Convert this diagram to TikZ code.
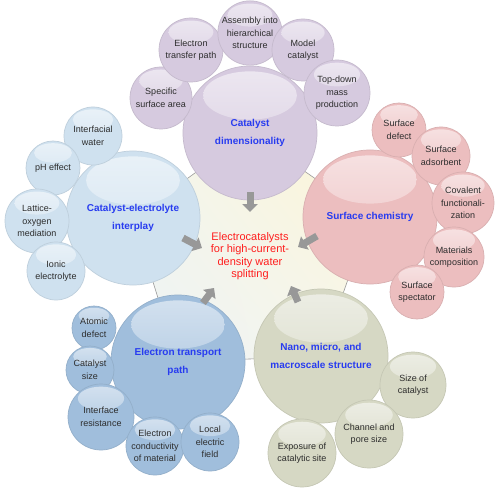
\documentclass[tikz,border=0pt]{standalone}
\usepackage{fontspec}
\setmainfont{Liberation Sans}
\usetikzlibrary{calc,arrows.meta,backgrounds,shadings}
\definecolor{cpur}{RGB}{214,202,223}
\definecolor{cpink}{RGB}{236,190,191}
\definecolor{clb}{RGB}{207,225,239}
\definecolor{cblue}{RGB}{160,190,220}
\definecolor{cgreen}{RGB}{214,216,196}
\definecolor{txtgray}{RGB}{45,45,45}
\definecolor{lblblue}{RGB}{40,60,240}
\definecolor{corered}{RGB}{255,30,30}
\definecolor{arrgray}{RGB}{152,152,152}
\definecolor{pUL}{RGB}{244,246,236}
\definecolor{pUR}{RGB}{253,244,212}
\definecolor{pLL}{RGB}{236,242,246}
\definecolor{pLR}{RGB}{247,247,236}
\colorlet{bubC}{cpur}
\def\bubR{30}
\tikzset{
  bub/.style={circle, inner sep=0pt, minimum size={2*\bubR pt}, fill=bubC,
    draw=bubC!92!black, line width=0.7pt, align=center,
    path picture={\shade[top color=bubC!45!white, bottom color=bubC]
      ($(path picture bounding box.center)+(0pt,{0.56*\bubR pt})$)
      ellipse [x radius={0.7*\bubR pt}, y radius={0.36*\bubR pt}];}},
  smalltxt/.style={font={\fontsize{9}{12.5}\selectfont}, text=txtgray},
  bigtxt/.style={font={\fontsize{10}{17.5}\selectfont\bfseries}, text=lblblue},
  coretxt/.style={font={\fontsize{11}{12.4}\selectfont}, text=corered, align=center, inner sep=0pt},
  arr/.style={draw=arrgray, line width=7pt, -{Triangle[width=15pt,length=8pt]}},
  pentline/.style={draw=black!40, line width=0.6pt},
}
\newcommand\bubble[6]{%
  \def\bubR{#3}\colorlet{bubC}{#4}%
  \node[bub, #5] (#1) at (#2) {#6};}
\begin{document}
\begin{tikzpicture}[x=1pt,y=-1pt]
\useasboundingbox (0,0) rectangle (500,489);
% big circles
\bubble{catdim}{250,133}{67}{cpur}{bigtxt}{Catalyst\\dimensionality}
\bubble{surf}{370,217}{67}{cpink}{bigtxt}{Surface chemistry}
\bubble{cei}{133,218}{67}{clb}{bigtxt}{Catalyst-electrolyte\\interplay}
\bubble{etp}{178,362}{67}{cblue}{bigtxt}{Electron transport\\path}
\bubble{nano}{321,356}{67}{cgreen}{bigtxt}{Nano, micro, and\\macroscale structure}
% purple group
\bubble{ssa}{161,98}{31}{cpur}{smalltxt}{Specific\\surface area}
\bubble{etpath}{191,50}{32}{cpur}{smalltxt}{Electron\\transfer path}
\bubble{asm}{250,33}{32}{cpur}{smalltxt}{Assembly into\\hierarchical\\structure}
\bubble{model}{303,50}{31}{cpur}{smalltxt}{Model\\catalyst}
\bubble{topdown}{337,93}{33}{cpur}{smalltxt}{Top-down\\mass\\production}
% pink group
\bubble{sdef}{399,130}{27}{cpink}{smalltxt}{Surface\\defect}
\bubble{sads}{441,156}{29}{cpink}{smalltxt}{Surface\\adsorbent}
\bubble{cov}{463,203}{31}{cpink}{smalltxt}{Covalent\\functionali-\\zation}
\bubble{mat}{454,257}{30}{cpink}{smalltxt}{Materials\\composition}
\bubble{sspec}{417,292}{27}{cpink}{smalltxt}{Surface\\spectator}
% light blue group
\bubble{iwat}{93,136}{29}{clb}{smalltxt}{Interfacial\\water}
\bubble{ph}{53,168}{27}{clb}{smalltxt}{pH effect}
\bubble{lat}{37,221}{32}{clb}{smalltxt}{Lattice-\\oxygen\\mediation}
\bubble{ionic}{56,271}{29}{clb}{smalltxt}{Ionic\\electrolyte}
% blue group
\bubble{atom}{94,328}{22}{cblue}{smalltxt}{Atomic\\defect}
\bubble{csize}{90,370}{24}{cblue}{smalltxt}{Catalyst\\size}
\bubble{intres}{101,417}{33}{cblue}{smalltxt}{Interface\\resistance}
\bubble{econd}{155,446}{29}{cblue}{smalltxt}{Electron\\conductivity\\of material}
\bubble{lfield}{210,442}{29}{cblue}{smalltxt}{Local\\electric\\field}
% green group
\bubble{sizec}{413,385}{33}{cgreen}{smalltxt}{Size of\\catalyst}
\bubble{expo}{302,453}{34}{cgreen}{smalltxt}{Exposure of\\catalytic site}
\bubble{chan}{369,434}{34}{cgreen}{smalltxt}{Channel and\\pore size}
% core
\node[coretxt] (core) at (250,256) {Electrocatalysts\\for high-current-\\density water\\splitting};
% background pentagon
\begin{scope}[on background layer]
\fill[white] (0,0) rectangle (500,489);
\shade[upper left=pUL, upper right=pUR, lower left=pLL, lower right=pLR]
  (catdim.center) -- (surf.center) -- (nano.center) -- (etp.center) -- (cei.center) -- cycle;
\draw[pentline] (catdim.center) -- (surf.center) -- (nano.center) -- (etp.center) -- (cei.center) -- cycle;
\end{scope}
% arrows
\draw[arr] ($(catdim.center)+(0,59)$) -- ($(catdim.center)+(0,79)$);
\draw[arr] ($(surf.center)+(-53,19)$) -- ($(surf.center)+(-72,30)$);
\draw[arr] ($(cei.center)+(50,20)$) -- ($(cei.center)+(69,30)$);
\draw[arr] ($(etp.center)+(25,-59)$) -- ($(etp.center)+(36,-74)$);
\draw[arr] ($(nano.center)+(-23,-54)$) -- ($(nano.center)+(-30,-70)$);
\end{tikzpicture}
\end{document}
